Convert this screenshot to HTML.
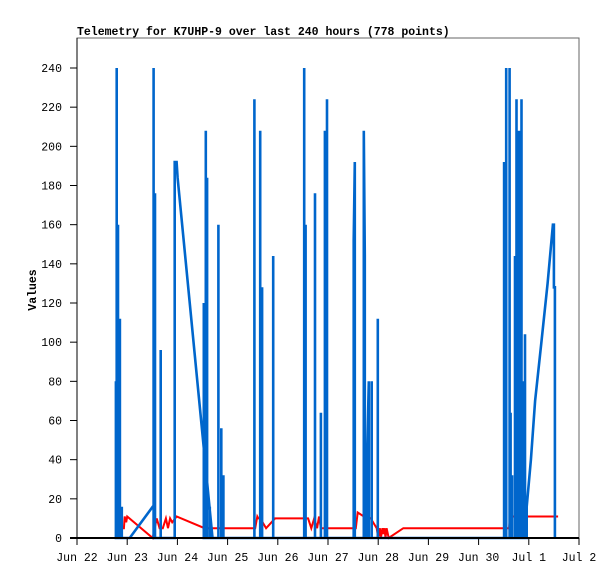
<!DOCTYPE html>
<html><head><meta charset="utf-8"><style>
body{margin:0;background:#fff;}
svg{display:block;font-family:"Liberation Mono","DejaVu Sans Mono",monospace;}
</style></head><body>
<svg id="chart" width="615" height="579" viewBox="0 0 615 579" xmlns="http://www.w3.org/2000/svg">
<rect x="0" y="0" width="615" height="579" fill="#fff"/>
<text x="77" y="35" font-size="11.5" font-weight="bold" fill="#000">Telemetry for K7UHP-9 over last 240 hours (778 points)</text>
<rect x="77" y="38" width="502" height="500" fill="none" stroke="#666" stroke-width="1"/>
<text x="0" y="0" font-size="11.5" font-weight="bold" transform="translate(36,290) rotate(-90)" text-anchor="middle">Values</text>
<g id="series"></g>
<g id="axes"></g>
</svg>
<script>
const yTicks=[0,20,40,60,80,100,120,140,160,180,200,220,240];
const xTickLabels=["Jun 22","Jun 23","Jun 24","Jun 25","Jun 26","Jun 27","Jun 28","Jun 29","Jun 30","Jul 1","Jul 2"];
// hours since Jun 22 00:00
const blueHours=[18.6,18.6,18.6,19.0,19.0,19.0,19.6,19.6,19.6,20.5,20.5,20.5,21.4,21.4,21.4,25.2,36.2,36.6,36.6,36.6,37.3,37.3,37.3,37.3,40.0,40.0,40.0,46.7,46.7,46.7,47.6,48.1,64.8,60.6,60.6,60.6,61.6,61.6,61.6,62.2,62.2,62.2,62.2,63.5,63.5,63.5,67.6,67.6,67.6,69.0,69.0,69.0,70.0,70.0,70.0,
84.8,84.8,84.8,84.8,87.6,87.6,87.6,88.5,88.5,88.5,88.5,93.8,93.8,93.8,
108.6,108.6,108.6,109.3,109.3,109.3,109.3,113.8,113.8,113.8,116.6,116.6,116.6,118.5,118.5,118.5,118.5,119.5,119.5,119.5,
132.3,132.3,132.8,132.8,137.1,137.1,137.6,137.6,138.5,138.5,139.5,139.5,140.9,140.9,140.9,143.8,143.8,143.8,
204.2,204.2,204.2,205.2,205.2,205.2,206.8,206.8,206.8,207.3,207.3,207.3,208.0,208.0,208.0,209.4,209.4,209.4,210.1,210.1,210.1,210.6,210.6,210.6,211.1,211.1,211.1,211.6,211.6,211.6,212.5,212.5,212.5,213.3,213.3,213.3,214.2,214.2,214.2,215.0,215.0,217.0,219.0,222.0,225.0,227.5,228.0,228.0,228.5,228.5];
const blueValues=[0,80,0,0,240,0,0,160,0,0,112,0,0,16,0,0,16,16,240,0,0,176,88,0,0,96,0,0,96,192,192,184,0,0,120,0,0,208,0,0,184,72,0,0,16,0,0,160,0,0,56,0,0,32,0,
0,224,112,0,0,208,0,0,128,64,0,0,144,0,
0,240,0,0,160,16,0,0,176,0,0,64,0,0,208,112,0,0,224,0,
0,152,192,0,0,208,144,0,0,32,80,0,0,80,0,0,112,0,
0,192,0,0,240,0,0,240,0,0,64,0,0,32,0,0,144,0,0,224,0,0,208,0,0,160,0,0,208,0,0,224,0,0,80,0,0,104,0,0,16,40,70,100,130,160,160,128,128,0];
const redHours=[18.6,18.8,22.4,22.8,23.5,24.0,36.2,38.1,39.5,41.0,42.5,43.5,44.5,45.5,47.6,61.0,85.2,86.2,86.7,87.6,90.4,94.7,104.0,110.5,112.0,113.4,114.8,115.7,116.6,120.5,133.3,134.2,137.1,140.4,143.3,144.0,144.8,145.3,146.0,146.5,147.0,147.5,148.0,149.0,156.0,206.6,207.0,230.0];
const redValues=[0,5,5,11,8,11,0,10,5,5,10,5,10,8,11,5,5,11,10,10,5,10,10,10,5,10,5,11,5,5,5,13,11,10,5,0,5,0,5,2,5,0,5,0,5,5,11,11];
const X0=77,X1=579,Y0=538,Y1=68;
const xs=h=>X0+h/240*(X1-X0);
const ys=v=>Y0-v/240*(Y0-Y1);
const NS="http://www.w3.org/2000/svg";
const axes=document.getElementById('axes'),series=document.getElementById('series');
function mk(tag,attrs,parent){const e=document.createElementNS(NS,tag);for(const k in attrs)e.setAttribute(k,attrs[k]);parent.appendChild(e);return e;}
function line(hs,vs,color,w,name){
  const pts=hs.map((h,i)=>xs(h).toFixed(1)+","+ys(vs[i]).toFixed(1)).join(" ");
  const p=mk('polyline',{points:pts,fill:'none',stroke:color,'stroke-width':w,'stroke-linejoin':'miter'},series);
  
  
}
line(redHours,redValues,'#ff0000',2,'series-red');
line(blueHours,blueValues,'#0066cc',2.6,'series-blue');
const ya=mk('line',{x1:X0,y1:38,x2:X0,y2:Y0,stroke:'#000','stroke-width':1},axes);


yTicks.forEach(v=>{
  const t=mk('line',{x1:70,y1:ys(v),x2:X0,y2:ys(v),stroke:'#000','stroke-width':1},axes);
  
  
  const l=mk('text',{x:62,y:ys(v)+4,'text-anchor':'end','font-size':11.5},axes);
  l.textContent=v;
  
  
});
const xa=mk('line',{x1:70,y1:Y0,x2:X1,y2:Y0,stroke:'#000','stroke-width':2},axes);


xTickLabels.forEach((s,i)=>{
  const x=xs(i*24);
  const t=mk('line',{x1:x,y1:Y0,x2:x,y2:Y0+7,stroke:'#000','stroke-width':1},axes);
  
  
  const l=mk('text',{x:x,y:561,'text-anchor':'middle','font-size':11.5},axes);
  l.textContent=s;
  
  
});
</script>
</body></html>
